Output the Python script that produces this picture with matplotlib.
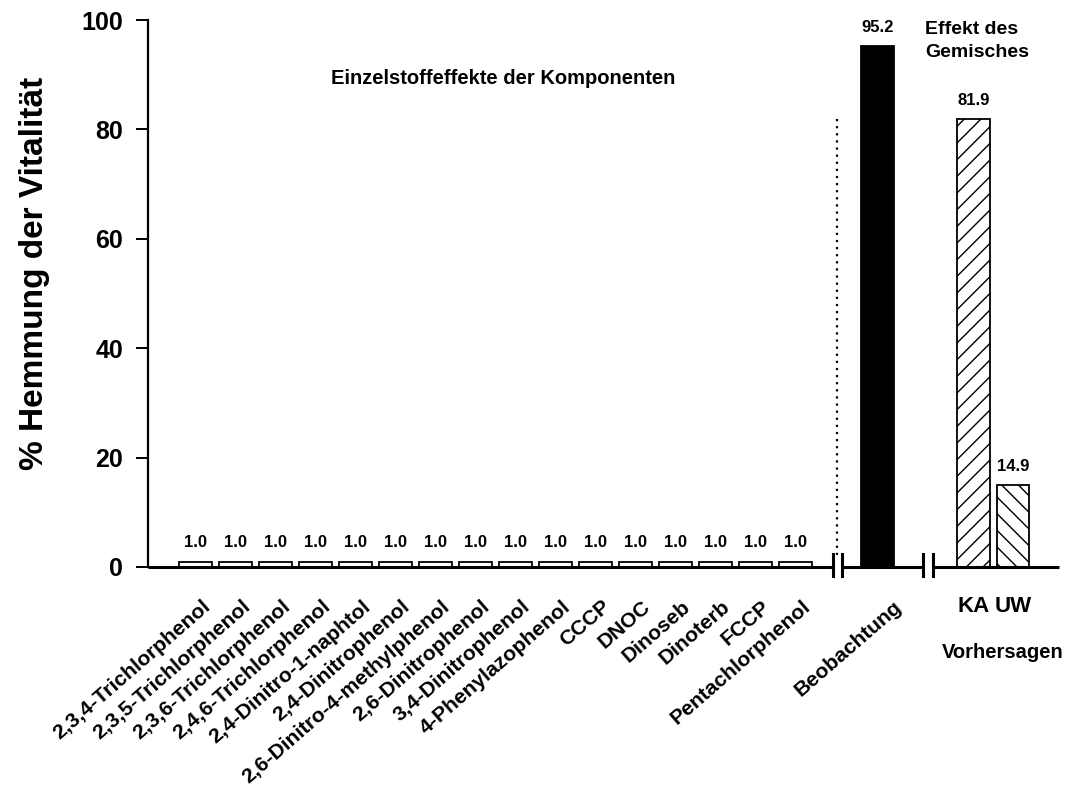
import numpy as np
import matplotlib
matplotlib.use("Agg")
import matplotlib.pyplot as plt
from matplotlib.transforms import offset_copy

plt.rcParams['font.family'] = ['Liberation Sans', 'DejaVu Sans']
plt.rcParams['font.weight'] = 'bold'
plt.rcParams['hatch.linewidth'] = 1.0

# ---- data ----
compounds = ["2,3,4-Trichlorphenol", "2,3,5-Trichlorphenol", "2,3,6-Trichlorphenol",
             "2,4,6-Trichlorphenol", "2,4-Dinitro-1-naphtol", "2,4-Dinitrophenol",
             "2,6-Dinitro-4-methylphenol", "2,6-Dinitrophenol", "3,4-Dinitrophenol",
             "4-Phenylazophenol", "CCCP", "DNOC", "Dinoseb", "Dinoterb", "FCCP",
             "Pentachlorphenol"]
compound_values = [1.0] * 16
observed_label = "Beobachtung"
observed_value = 95.2
prediction_labels = ["KA", "UW"]
prediction_values = [81.9, 14.9]
y_ticks = [0, 20, 40, 60, 80, 100]

# ---- layout ----
x_comp = np.arange(len(compounds))
x_obs = 17.05
x_pred = [19.46, 20.44]
bw = 0.82
brk1 = 16.05
brk2 = 18.31
xmin, xmax = -1.19, 21.59

fig = plt.figure(figsize=(10.71, 7.91), dpi=100)
ax = fig.add_axes([0.1382, 0.2832, 0.8506, 0.6915])
ax.set_xlim(xmin, xmax)
ax.set_ylim(0, 100)

ax.bar(x_comp, compound_values, width=bw, color='white', edgecolor='black', linewidth=1.3, zorder=3)
ax.bar([x_obs], [observed_value], width=bw, color='black', edgecolor='black', linewidth=1.3, zorder=3)
hatches = ['//', '\\\\']
for xp, v, h in zip(x_pred, prediction_values, hatches):
    ax.bar([xp], [v], width=bw, color='white', edgecolor='black', hatch=h, linewidth=1.3, zorder=3)

# value labels
lab_tr = offset_copy(ax.transData, fig=fig, x=0, y=8, units='points')
for xc, v in zip(x_comp, compound_values):
    ax.text(xc, v, f"{v:.1f}", ha='center', va='bottom', fontsize=12, fontweight='bold', transform=lab_tr)
ax.text(x_obs, observed_value, f"{observed_value:.1f}", ha='center', va='bottom', fontsize=12,
        fontweight='bold', transform=lab_tr)
for xp, v in zip(x_pred, prediction_values):
    ax.text(xp, v, f"{v:.1f}", ha='center', va='bottom', fontsize=12, fontweight='bold', transform=lab_tr)

# spines / axes
for s in ['top', 'right', 'bottom']:
    ax.spines[s].set_visible(False)
ax.spines['left'].set_linewidth(1.6)
ax.set_yticks(y_ticks)
ax.set_yticklabels([str(t) for t in y_ticks], fontsize=18, fontweight='bold')
ax.tick_params(axis='y', direction='out', length=9, width=1.4, pad=9)
ax.set_xticks([])
ax.set_ylabel("% Hemmung der Vitalität", fontsize=24, fontweight='bold')
ax.yaxis.set_label_coords(-0.1076, 0.537)

# broken x axis line
gap = 0.12
segs = [(xmin, brk1 - gap), (brk1 + gap, brk2 - gap), (brk2 + gap, xmax)]
for a, b in segs:
    ax.plot([a, b], [0, 0], color='black', lw=2.2, clip_on=False, zorder=4, solid_capstyle='butt')
for b in (brk1, brk2):
    for d in (-gap, gap):
        ax.plot([b + d, b + d], [-1.6, 2.4], color='black', lw=2.2, clip_on=False, zorder=4)

# dotted separator
ax.plot([brk1, brk1], [2.2, 82.6], color='black', lw=1.6, linestyle=(0, (1, 2.2)), zorder=2)

# category labels
cat_tr = offset_copy(ax.transData, fig=fig, x=12 * 0.72, y=-37 * 0.72, units='points')
for xc, name in zip(x_comp, compounds):
    ax.text(xc, 0, name, rotation=41, rotation_mode='anchor', ha='right', va='center',
            fontsize=15.2, fontweight='bold', transform=cat_tr, clip_on=False)
obs_tr = offset_copy(ax.transData, fig=fig, x=22 * 0.72, y=-37 * 0.72, units='points')
ax.text(x_obs, 0, observed_label, rotation=41, rotation_mode='anchor', ha='right', va='center',
        fontsize=15.2, fontweight='bold', transform=obs_tr, clip_on=False)
pred_tr = offset_copy(ax.transData, fig=fig, x=0, y=-40 * 0.72, units='points')
for xp, name in zip(x_pred, prediction_labels):
    ax.text(xp, 0, name, ha='center', va='center', fontsize=16, fontweight='bold',
            transform=pred_tr, clip_on=False)

# annotations
fig.text(503 / 1071, 1 - 78 / 791, "Einzelstoffeffekte der Komponenten", ha='center', va='center',
         fontsize=14.5, fontweight='bold')
fig.text(925 / 1071, 1 - 41 / 791, "Effekt des\nGemisches", ha='left', va='center',
         fontsize=14, fontweight='bold', linespacing=1.4)
fig.text(1003 / 1071, 1 - 652 / 791, "Vorhersagen", ha='center', va='center',
         fontsize=14.5, fontweight='bold')

fig.savefig("out.png", dpi=100)
